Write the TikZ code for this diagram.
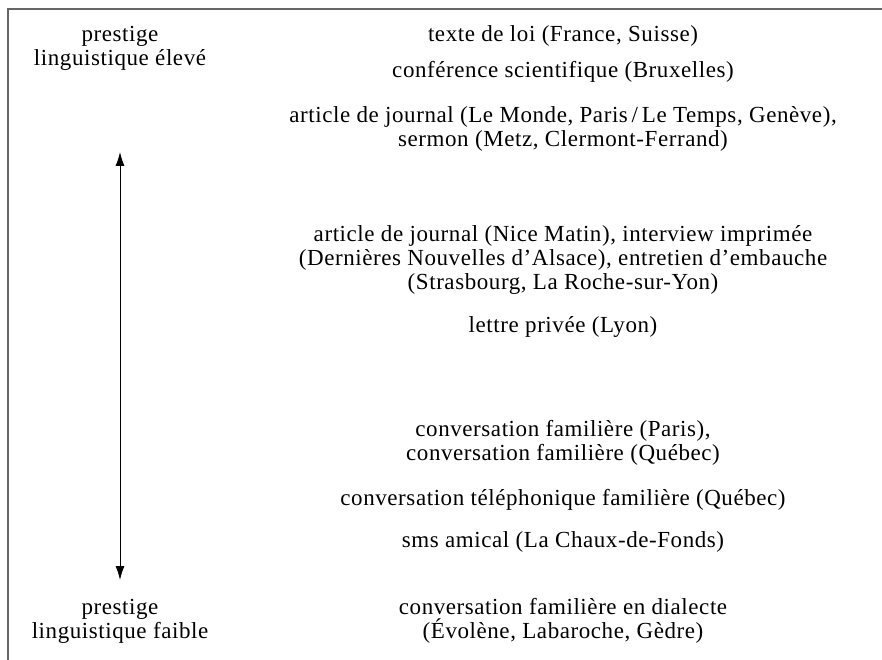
\documentclass[tikz,border=0pt]{standalone}
\usepackage{fontspec}
\setmainfont[LetterSpace=2.5]{Liberation Serif}
\usetikzlibrary{arrows.meta}
\tikzstyle{register}=[align=center,font=\fontsize{23}{24}\selectfont,inner sep=0pt]
\tikzstyle{pole}=[align=center,font=\fontsize{23}{24}\selectfont,inner sep=0pt]

\begin{document}
\begin{tikzpicture}[x=1pt,y=-1pt]
  \useasboundingbox (0,0) rectangle (882,660);
  \draw[line width=1.3pt,black!60] (882,9) -- (8,9) -- (8,660);
  \node[pole] (high) at (120,48) {prestige\\linguistique élevé};
  \node[pole] (low) at (120,621) {prestige\\linguistique faible};
  \node[register] (loi) at (563,36) {texte de loi (France, Suisse)};
  \node[register] (conf) at (563,72) {conférence scientifique (Bruxelles)};
  \node[register] (journal) at (563,129) {article de journal (Le Monde, Paris\,/\,Le Temps, Genève),\\sermon (Metz, Clermont-Ferrand)};
  \node[register] (nice) at (563,260) {article de journal (Nice Matin), interview imprimée\\(Dernières Nouvelles d’Alsace), entretien d’embauche\\(Strasbourg, La Roche-sur-Yon)};
  \node[register] (lettre) at (563,327) {lettre privée (Lyon)};
  \node[register] (conv) at (563,443) {conversation familière (Paris),\\conversation familière (Québec)};
  \node[register] (tel) at (563,500) {conversation téléphonique familière (Québec)};
  \node[register] (sms) at (563,542) {sms amical (La Chaux-de-Fonds)};
  \node[register] (dial) at (563,621) {conversation familière en dialecte\\(Évolène, Labaroche, Gèdre)};
  \coordinate (top) at (120,152);
  \coordinate (bottom) at (120,580);
  \draw[{Latex[length=14pt,width=9pt]}-{Latex[length=14pt,width=9pt]},line width=1pt] (top) -- (bottom);
\end{tikzpicture}
\end{document}
